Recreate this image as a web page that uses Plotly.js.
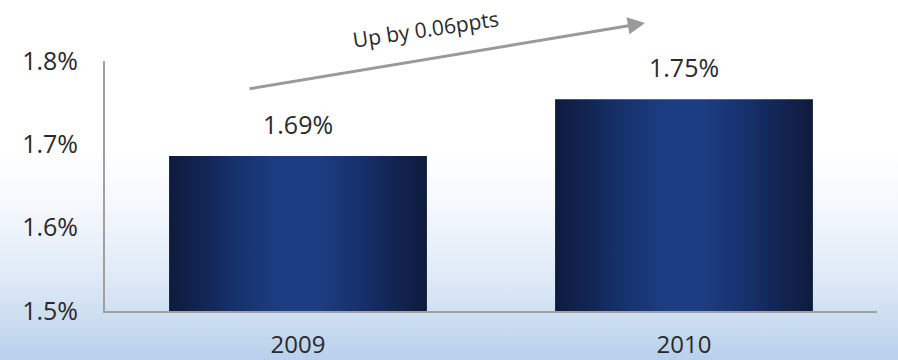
<!DOCTYPE html>
<html>
<head>
<meta charset="utf-8">
<script src="https://cdn.plot.ly/plotly-3.0.1.min.js"></script>
<style>
  html, body { margin: 0; padding: 0; }
  body {
    width: 898px; height: 360px; overflow: hidden;
    background: linear-gradient(to bottom, #ffffff 0%, #ffffff 42%, #f3f7fc 58%, #e2ecf7 75%, #cddef1 88%, #b7d0ec 100%);
  }
  #chart { width: 898px; height: 360px; }
</style>
</head>
<body>
<div id="chart"></div>
<script>
const categories = ["2009", "2010"];
const values = [1.686, 1.754];
const valueLabels = ["1.69%", "1.75%"];
const yTickVals = [1.5, 1.6, 1.7, 1.8];
const yTickText = ["1.5%", "1.6%", "1.7%", "1.8%"];
const arrowText = "Up by 0.06ppts";

const FONT = "Open Sans, DejaVu Sans, sans-serif";
const TXT = "#2a2a2a";

const trace = {
  type: "bar",
  x: categories,
  y: values,
  marker: { color: "#1a3878", line: { width: 0 } },
  hoverinfo: "skip"
};

const labelAnnotations = categories.map((c, i) => ({
  x: i, y: values[i], xref: "x", yref: "y",
  text: valueLabels[i], showarrow: false,
  xanchor: "center", yanchor: "bottom", yshift: 13,
  font: { family: FONT, size: 25, color: TXT }
}));

const layout = {
  width: 898, height: 360,
  margin: { l: 105, r: 21, t: 61, b: 49 },
  paper_bgcolor: "rgba(0,0,0,0)",
  plot_bgcolor: "rgba(0,0,0,0)",
  showlegend: false,
  bargap: 0.332,
  font: { family: FONT, size: 25, color: TXT },
  xaxis: {
    type: "category",
    range: [-0.5, 1.5], autorange: false,
    showline: true, linecolor: "#a0a0a0", linewidth: 2,
    showgrid: false, zeroline: false, ticks: "",
    ticklabelstandoff: 11,
    tickfont: { family: FONT, size: 24, color: TXT }
  },
  yaxis: {
    range: [1.5, 1.8], autorange: false,
    showline: true, linecolor: "#a0a0a0", linewidth: 2,
    showgrid: false, zeroline: false, ticks: "",
    tickvals: yTickVals, ticktext: yTickText,
    ticklabelstandoff: 20,
    tickfont: { family: FONT, size: 25, color: TXT }
  },
  annotations: labelAnnotations.concat([
    {
      xref: "paper", yref: "paper",
      x: 0.6995, y: 1.152,
      ax: -397, ay: 66, axref: "pixel", ayref: "pixel",
      text: "", showarrow: true,
      arrowhead: 2, arrowsize: 1.15, arrowwidth: 3, arrowcolor: "#9a9a9a"
    },
    {
      xref: "paper", yref: "paper",
      x: 0.415, y: 1.128, xanchor: "center", yanchor: "middle",
      text: arrowText, showarrow: false, textangle: -8.5,
      font: { family: FONT, size: 21, color: TXT }
    }
  ])
};

Plotly.newPlot("chart", [trace], layout, { staticPlot: true, displayModeBar: false }).then(function (gd) {
  const svgNS = "http://www.w3.org/2000/svg";
  const svg = gd.querySelector("svg.main-svg");
  let defs = svg.querySelector("defs");
  if (!defs) { defs = document.createElementNS(svgNS, "defs"); svg.insertBefore(defs, svg.firstChild); }
  const grad = document.createElementNS(svgNS, "linearGradient");
  grad.setAttribute("id", "barGrad");
  grad.setAttribute("x1", "0"); grad.setAttribute("y1", "0");
  grad.setAttribute("x2", "1"); grad.setAttribute("y2", "0");
  [["0%", "#0d1b3d"], ["8%", "#10214a"], ["25%", "#16306a"], ["42%", "#1c3d82"],
   ["58%", "#1c3d82"], ["75%", "#16306a"], ["92%", "#10214a"], ["100%", "#0d1b3d"]].forEach(function (s) {
    const st = document.createElementNS(svgNS, "stop");
    st.setAttribute("offset", s[0]);
    st.setAttribute("stop-color", s[1]);
    grad.appendChild(st);
  });
  defs.appendChild(grad);
  gd.querySelectorAll(".bars .point path").forEach(function (p) {
    p.style.fill = "url(#barGrad)";
  });
});
</script>
</body>
</html>
